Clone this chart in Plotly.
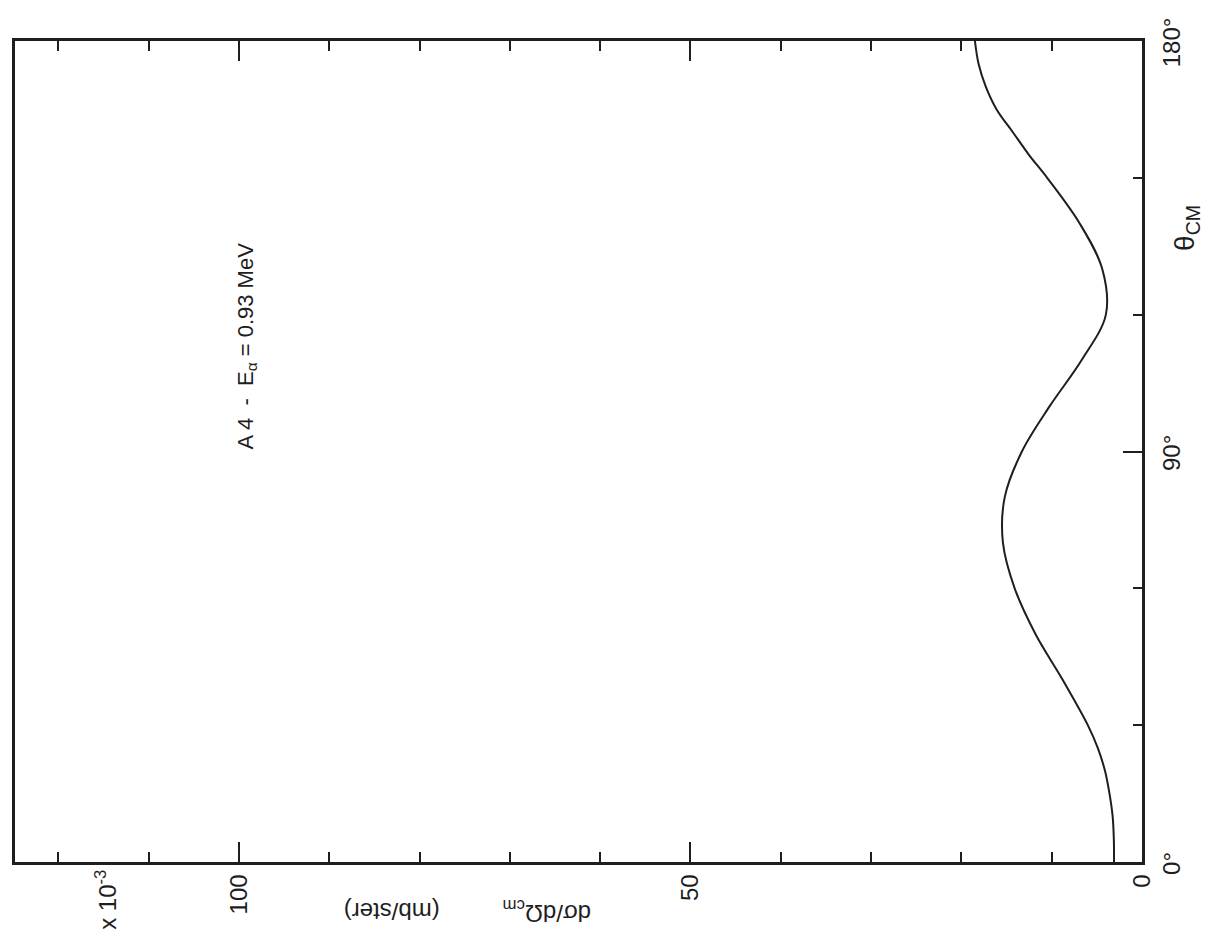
import plotly.graph_objects as go

# angle (degrees, c.m.) and differential cross section (x10^-3 mb/ster)
theta_cm = [0, 5, 10, 15, 20, 25, 30, 40, 50, 60, 70, 80, 90, 100, 110, 120, 130, 140, 150, 155, 160, 165, 170, 175, 180]
dsigma = [3.1, 3.12, 3.25, 3.6, 4.1, 4.9, 6.0, 8.8, 11.8, 14.1, 15.4, 15.2, 13.3, 10.2, 6.7, 4.0, 4.4, 6.9, 10.5, 12.5, 14.3, 16.1, 17.3, 18.1, 18.5]

value_ticks = [0, 50, 100]
value_ticktext = ["0", "50", "100"]
angle_ticks = [0, 90, 180]
angle_ticktext = ["0°", "90°", "180°"]

INK = "#1e1e1e"
FONT = "Liberation Sans, Arial, sans-serif"

fig = go.Figure()
fig.add_trace(go.Scatter(
    x=dsigma, y=theta_cm, mode="lines",
    line=dict(color=INK, width=2, shape="spline", smoothing=1.0),
    hoverinfo="skip", showlegend=False,
))

fig.update_layout(
    width=1205, height=940,
    margin=dict(l=13, r=63, t=41, b=78),
    paper_bgcolor="white", plot_bgcolor="white",
    font=dict(family=FONT, color=INK, size=22),
    xaxis=dict(
        range=[124.8, 0], showgrid=False, zeroline=False,
        showline=True, linecolor=INK, linewidth=2.5, mirror="ticks",
        ticks="inside", ticklen=20, tickwidth=1.5, tickcolor=INK,
        tickvals=value_ticks, ticktext=value_ticktext, tickangle=-90,
        tickfont=dict(size=24),
        minor=dict(dtick=10, tick0=0, ticks="inside", ticklen=10, tickwidth=1.5, tickcolor=INK),
    ),
    yaxis=dict(
        range=[0, 180], side="right", showgrid=False, zeroline=False,
        showline=True, linecolor=INK, linewidth=2.5, mirror=True,
        ticks="inside", ticklen=19, tickwidth=1.5, tickcolor=INK,
        tickvals=angle_ticks, ticktext=angle_ticktext, tickangle=-90,
        tickfont=dict(size=24), ticklabelshift=5, ticklabelstandoff=6,
        minor=dict(dtick=30, tick0=0, ticks="inside", ticklen=9, tickwidth=1.5, tickcolor=INK),
    ),
)

texts = [
    ("A 4 &nbsp;- &nbsp;E<sub>α</sub> = 0.93 MeV", -90, 22, (245, 346)),
    ("x 10<sup>-3</sup>", -90, 24, (104, 900)),
    ("dσ/dΩ<sub>cm</sub>", 180, 24, (546, 911)),
    ("(mb/ster)", 180, 24, (390, 911)),
    ("θ<sub>CM</sub>", -90, 28, (1186, 228)),
]

# place annotations in pixel-based paper coords
W, H = 1205, 940
L, R, T, B = 13, 63, 41, 78
pw, ph = W - L - R, H - T - B

for txt, ang, size, (xp, yp) in texts:
    fig.add_annotation(
        x=(xp - L) / pw, y=(H - B - yp) / ph, xref="paper", yref="paper",
        xanchor="center", yanchor="middle", text=txt, textangle=ang,
        showarrow=False, font=dict(size=size, family=FONT, color=INK),
    )

fig.write_html("out.html")
